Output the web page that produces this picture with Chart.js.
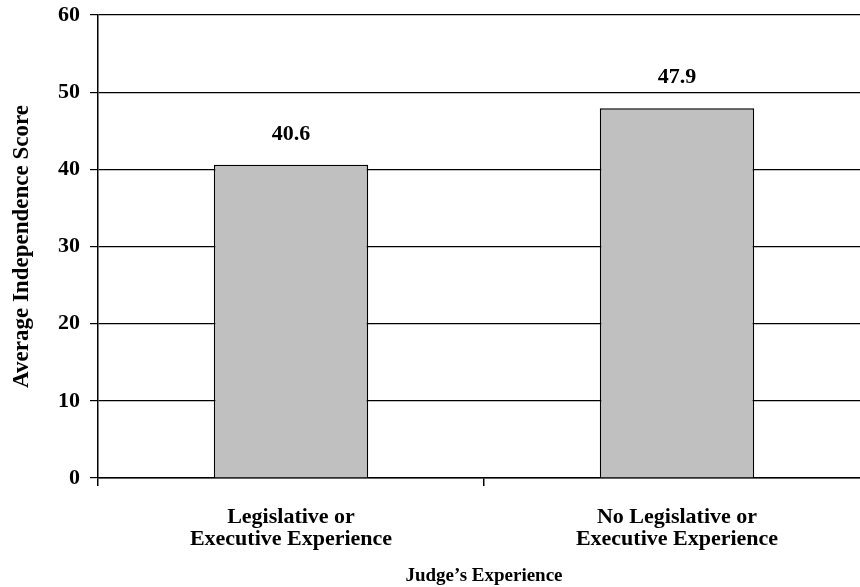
<!DOCTYPE html>
<html>
<head>
<meta charset="utf-8">
<script src="https://cdn.jsdelivr.net/npm/chart.js@4/dist/chart.umd.min.js"></script>
<style>
  html, body { margin: 0; padding: 0; background: #fff; overflow: hidden; }
  #wrap { width: 872px; height: 587px; }
</style>
</head>
<body>
<div id="wrap"><canvas id="chart"></canvas></div>
<script>
const categories = [
    ["Legislative or", "Executive Experience"],
    ["No Legislative or", "Executive Experience"]
];
const scores = [40.6, 47.9];
const yTicks = [0, 10, 20, 30, 40, 50, 60];

const serif = '"Liberation Serif", "Times New Roman", serif';

// value labels above the bars
const barLabels = {
    id: "barLabels",
    afterDatasetsDraw(chart) {
        let ctx = chart.ctx;
        let meta = chart.getDatasetMeta(0);
        ctx.save();
        ctx.font = "bold 22px " + serif;
        ctx.fillStyle = "#000";
        ctx.textAlign = "center";
        ctx.textBaseline = "alphabetic";
        meta.data.forEach((bar, i) => {
            ctx.fillText(scores[i].toFixed(1), bar.x, bar.y - 25);
        });
        ctx.restore();
    }
};

new Chart(document.getElementById("chart"), {
    type: "bar",
    data: {
        labels: categories,
        datasets: [{
            data: scores,
            backgroundColor: "#c0c0c0",
            borderColor: "#000",
            borderWidth: 1.5,
            barPercentage: 0.4,
            categoryPercentage: 1
        }]
    },
    options: {
        responsive: true,
        maintainAspectRatio: false,
        animation: false,
        layout: { padding: { top: 15, right: 2, bottom: 0, left: 0 } },
        plugins: {
            legend: { display: false },
            tooltip: { enabled: false }
        },
        scales: {
            x: {
                offset: true,
                afterFit: s => { s.height = 109; s.paddingLeft = 0; s.paddingRight = 0; },
                grid: { display: true, drawOnChartArea: false, drawTicks: true, tickLength: 8, color: "#000", lineWidth: 1.5, offset: true },
                border: { color: "#000", width: 1.5 },
                ticks: {
                    color: "#000",
                    padding: 20,
                    maxRotation: 0,
                    font: { family: serif, size: 22, weight: "bold", lineHeight: 1.0 }
                },
                title: {
                    display: true,
                    text: "Judge’s Experience",
                    color: "#000",
                    padding: { top: 0, bottom: 0 },
                    font: { family: serif, size: 19, weight: "bold" }
                }
            },
            y: {
                min: 0,
                max: 60,
                afterFit: s => { s.width = 98; s.paddingTop = 0; s.paddingBottom = 0; },
                afterBuildTicks: s => { s.ticks = yTicks.map(v => ({ value: v })); },
                grid: { color: "#000", lineWidth: 1.2, tickLength: 8 },
                border: { color: "#000", width: 1.5 },
                ticks: {
                    color: "#000",
                    padding: 10,
                    font: { family: serif, size: 22, weight: "bold" }
                },
                title: {
                    display: true,
                    text: "Average Independence Score",
                    color: "#000",
                    padding: { top: 8, bottom: 0 },
                    font: { family: serif, size: 23, weight: "bold" }
                }
            }
        }
    },
    plugins: [barLabels]
});
</script>
</body>
</html>
